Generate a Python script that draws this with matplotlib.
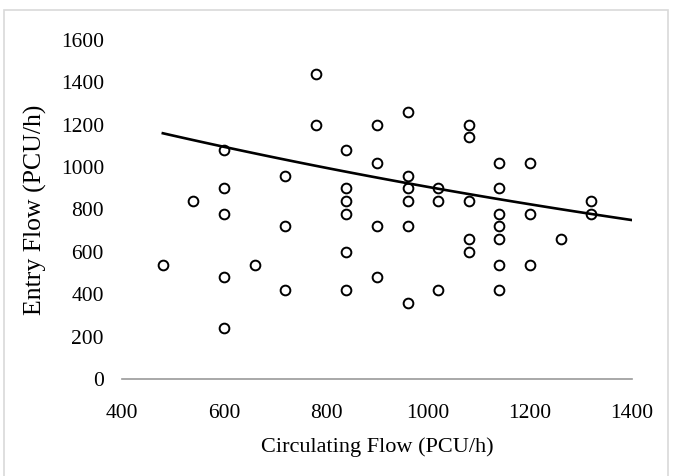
import numpy as np
import matplotlib
matplotlib.use("Agg")
import matplotlib.pyplot as plt
from matplotlib.patches import Rectangle

# circulating flow (x) and entry flow (y), PCU/h
circulating = [480, 540,
               600, 600, 600, 600, 600,
               660,
               720, 720, 720,
               780, 780,
               840, 840, 840, 840, 840, 840,
               900, 900, 900, 900,
               960, 960, 960, 960, 960, 960,
               1020, 1020, 1020,
               1080, 1080, 1080, 1080, 1080,
               1140, 1140, 1140, 1140, 1140, 1140, 1140,
               1200, 1200, 1200,
               1260,
               1320, 1320]
entry = [540, 840,
         1080, 900, 780, 480, 240,
         540,
         960, 720, 420,
         1440, 1200,
         1080, 900, 840, 780, 600, 420,
         1200, 1020, 720, 480,
         1260, 960, 900, 840, 720, 360,
         900, 840, 420,
         1200, 1140, 840, 660, 600,
         1020, 900, 780, 720, 660, 540, 420,
         1020, 780, 540,
         660,
         840, 780]

# exponential trend line y = a * exp(b * x)
# (about 1160 at x=480 and 750 at x=1400)
trend_a = 1456
trend_b = -0.000474
trend_x = [480, 1400]

x_ticks = [400, 600, 800, 1000, 1200, 1400]
y_ticks = [0, 200, 400, 600, 800, 1000, 1200, 1400, 1600]

plt.rcParams['font.family'] = ['Liberation Serif', 'DejaVu Serif']

fig = plt.figure(figsize=(6.78, 4.76), dpi=100)
ax = fig.add_axes([0.180, 0.204, 0.752, 0.712])

# border round the chart area, as in the source picture
fig.patches.append(Rectangle((4 / 678, -0.05), 664 / 678, 1 - 10 / 476 + 0.05,
                             transform=fig.transFigure, fill=False,
                             edgecolor='#d9d9d9', linewidth=1.2))

ax.plot(circulating, entry, linestyle='', marker='o', markersize=7,
        markerfacecolor='white', markeredgecolor='black', markeredgewidth=1.4)

xt = np.linspace(trend_x[0], trend_x[1], 100)
ax.plot(xt, trend_a * np.exp(trend_b * xt), color='black', linewidth=1.9)

ax.set_xlim(400, 1400)
ax.set_ylim(0, 1600)
ax.set_xticks(x_ticks)
ax.set_yticks(y_ticks)
for s in ['top', 'right', 'left']:
    ax.spines[s].set_visible(False)
ax.spines['bottom'].set_color('#9a9a9a')
ax.spines['bottom'].set_linewidth(1.2)
ax.tick_params(length=0, labelsize=15.5)
ax.tick_params(axis='x', pad=18)
ax.tick_params(axis='y', pad=13)

ax.set_xlabel('Circulating Flow (PCU/h)', fontsize=16, labelpad=10)
ax.set_ylabel('Entry Flow (PCU/h)', fontsize=18.5, labelpad=10)

fig.savefig('out.png', dpi=100)
